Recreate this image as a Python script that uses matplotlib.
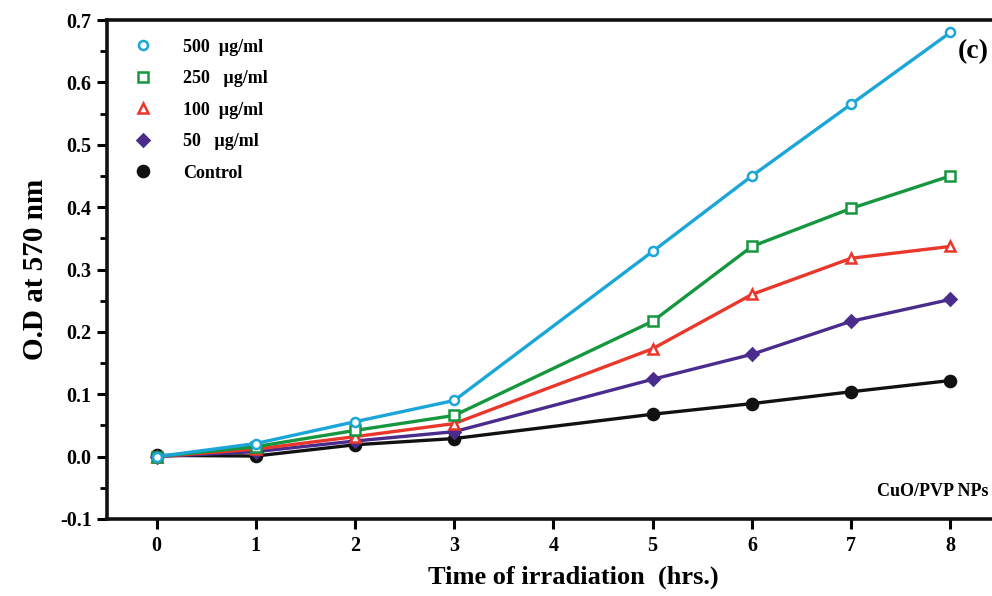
import matplotlib
matplotlib.use("Agg")
import matplotlib.pyplot as plt
from matplotlib.ticker import MultipleLocator
from matplotlib.lines import Line2D

plt.rcParams['font.family'] = ['Liberation Serif', 'DejaVu Serif']
plt.rcParams['font.weight'] = 'bold'

hours = [0, 1, 2, 3, 5, 6, 7, 8]
od_500 = [0.0, 0.021, 0.056, 0.090, 0.329, 0.450, 0.565, 0.680]
od_250 = [0.0, 0.016, 0.042, 0.066, 0.217, 0.337, 0.398, 0.450]
od_100 = [0.0, 0.012, 0.032, 0.053, 0.173, 0.260, 0.318, 0.337]
od_50 = [0.0, 0.008, 0.025, 0.040, 0.124, 0.164, 0.217, 0.252]
od_ctrl = [0.002, 0.001, 0.019, 0.029, 0.068, 0.085, 0.104, 0.122]

labels = ['500  \u00b5g/ml', '250   \u00b5g/ml', '100  \u00b5g/ml', '50   \u00b5g/ml', 'Control']
colors = ['#1ba6d9', '#16963e', '#e9382b', '#4a2c8c', '#111111']
markers = ['o', 's', '^', 'D', 'o']
series = [od_500, od_250, od_100, od_50, od_ctrl]

fig = plt.figure(figsize=(9.92, 5.96), dpi=100)
ax = fig.add_axes([107/992, 1-519/596, 1-107/992+0.003, (519-20)/596])

order = [4, 3, 2, 1, 0]
for i in order:
    filled = i >= 3
    ms = 8 if i == 4 else (6 if i == 3 else 6.5)
    ax.plot(hours, series[i], color=colors[i], lw=2.4, marker=markers[i],
            markersize=ms, markeredgewidth=1.8,
            markerfacecolor=colors[i] if filled else 'white',
            markeredgecolor=colors[i], zorder=3 + (4 - i))

ax.set_xlim(-0.5, 8.45)
ax.set_ylim(-0.1, 0.7)
ax.set_xticks(range(0, 9))
ax.yaxis.set_major_locator(MultipleLocator(0.1))
ax.yaxis.set_minor_locator(MultipleLocator(0.05))
ax.set_yticklabels([f'{v:.1f}' for v in ax.get_yticks()])
ax.tick_params(axis='both', which='major', direction='out', length=7, width=2.2, labelsize=14.5)
ax.tick_params(axis='y', which='minor', direction='out', length=5, width=2.0)
ax.tick_params(axis='x', pad=5)
ax.tick_params(axis='y', pad=4)
for lab in ax.get_xticklabels() + ax.get_yticklabels():
    lab.set_fontweight('bold')
for s in ax.spines.values():
    s.set_linewidth(2.6)
    s.set_color('#111111')

ax.set_xlabel('Time of irradiation  (hrs.)', fontsize=19, fontweight='bold')
ax.xaxis.set_label_coords(0.525, -0.094)
ax.set_ylabel('O.D at 570 nm', fontsize=21, fontweight='bold', labelpad=8)

handles = []
for i in range(5):
    filled = i >= 3
    ms = 8 if i == 4 else (6 if i == 3 else 6.5)
    handles.append(Line2D([], [], linestyle='none', marker=markers[i], color=colors[i],
                          markersize=ms, markeredgewidth=1.8,
                          markerfacecolor=colors[i] if filled else 'white'))
leg = ax.legend(handles, labels, loc='upper left', bbox_to_anchor=(0.012, 0.995),
                frameon=False, prop={'weight': 'bold', 'size': 13},
                handletextpad=1.7, labelspacing=0.8, handlelength=1.0)

ax.text(0.993, 0.937, '(c)', transform=ax.transAxes, ha='right', va='center',
        fontsize=20, fontweight='bold')
ax.text(0.993, 0.055, 'CuO/PVP NPs', transform=ax.transAxes, ha='right', va='center',
        fontsize=13, fontweight='bold')

fig.savefig('out.png', dpi=100)
